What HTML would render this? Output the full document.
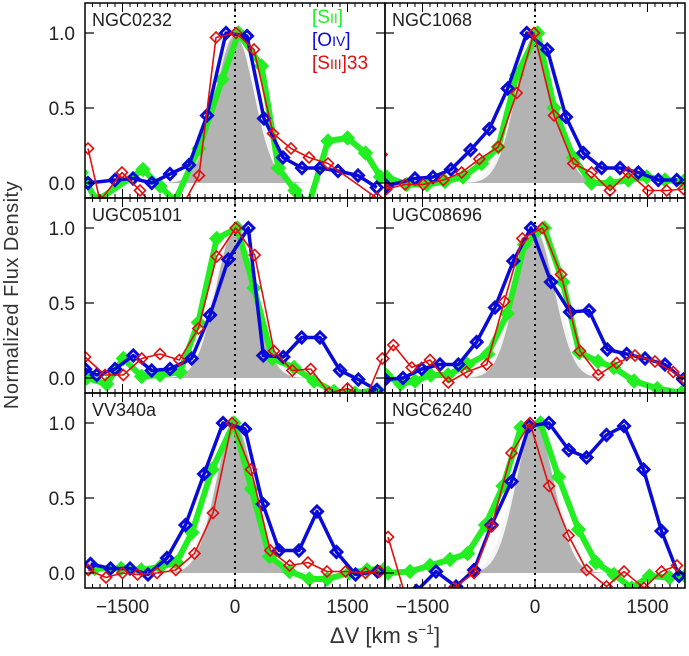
<!DOCTYPE html>
<html><head><meta charset="utf-8">
<style>
html,body{margin:0;padding:0;background:#fff;}
svg{display:block;font-family:"Liberation Sans",sans-serif;}
</style></head>
<body>
<svg id="chart" width="689" height="656" viewBox="0 0 689 656" xmlns="http://www.w3.org/2000/svg"></svg>
<script>
// ---- data: [velocity km/s, normalized flux] ----
const panelNames = ["NGC0232","NGC1068","UGC05101","UGC08696","VV340a","NGC6240"];
const xTicks = [-1500, 0, 1500];
const xTickLabels = ["\u22121500","0","1500"];
const yTicks = [0, 0.5, 1.0];
const yTickLabels = ["0.0","0.5","1.0"];

const ngc0232_siii = [[-2050,0.07],[-1850,-0.12],[-1227,0.09],[-1000,-0.02],[-800,-0.12],[-480,0.23],[-173,0.69],[47,1.0],[353,0.78],[580,0.1],[800,-0.05],[980,-0.15],[1240,0.28],[1500,0.3],[1740,0.2],[1940,0.04]];
const ngc0232_oiv = [[-1960,0],[-1600,0.02],[-1360,0.03],[-1110,0],[-867,0.06],[-613,0.12],[-373,0.45],[-120,1.0],[160,0.98],[387,0.43],[640,0.17],[893,0.1],[1133,0.1],[1373,0.08],[1640,0.05],[1890,-0.03]];
const ngc0232_siii33 = [[-1960,0.23],[-1800,-0.12],[-1507,0.07],[-1267,-0.05],[-1100,-0.15],[-700,-0.15],[-480,0.05],[-253,0.97],[13,1.0],[253,0.89],[507,0.33],[747,0.23],[987,0.17],[1240,0.13],[1890,-0.1]];

const ngc1068_siii = [[-1980,0.04],[-1710,-0.01],[-1440,-0.01],[-1200,0.01],[-960,0.04],[-710,0.13],[-490,0.24],[-244,0.72],[36,1.0],[253,0.5],[511,0.17],[753,0.0],[1000,0.0],[1244,0.02],[1489,0.04],[1733,0.02],[1980,0.01]];
const ngc1068_oiv = [[-1980,-0.02],[-1600,0.03],[-1360,0.04],[-1120,0.09],[-860,0.22],[-610,0.36],[-364,0.63],[-110,1.0],[164,0.89],[413,0.44],[644,0.2],[889,0.1],[1133,0.1],[1378,0.07],[1644,0.02],[1890,0.02]];
const ngc1068_siii33 = [[-2045,0.19],[-1980,-0.04],[-1733,-0.01],[-1490,-0.01],[-1222,0.02],[-978,0.07],[-742,0.16],[-489,0.24],[-244,0.6],[-13,1.0],[253,0.45],[511,0.13],[753,0.07],[1000,-0.05],[1244,0.07],[1511,-0.05],[1756,-0.05],[1980,-0.04]];

const ugc05101_siii = [[-1978,0.0],[-1711,-0.04],[-1489,0.13],[-1244,0.01],[-1000,0.02],[-733,0.04],[-489,0.37],[-244,0.93],[31,1.0],[253,0.6],[498,0.13],[787,0.07],[1053,-0.02],[1320,-0.09],[1600,-0.1],[1900,-0.08]];
const ugc05101_oiv = [[-2000,0.06],[-1844,0.02],[-1600,0.06],[-1356,0.15],[-1111,0.05],[-867,0.06],[-578,0.13],[-333,0.42],[-89,0.79],[178,1.0],[378,0.15],[644,0.14],[889,0.27],[1133,0.27],[1400,0.05],[1644,-0.01],[1889,-0.08]];
const ugc05101_siii33 = [[-2000,0.14],[-1733,0.02],[-1489,0.02],[-1244,0.13],[-1000,0.16],[-742,0.12],[-489,0.33],[-244,0.81],[9,1.0],[262,0.82],[520,0.18],[764,0.05],[1009,0.06],[1253,-0.1],[1500,-0.07],[1750,-0.13],[1964,0.13]];

const ugc08696_siii = [[-1990,0.02],[-1790,-0.04],[-1600,-0.02],[-1390,0.02],[-1160,0.02],[-900,0.09],[-630,0.16],[-370,0.43],[-140,0.89],[124,1.0],[370,0.64],[590,0.17],[840,0.11],[1050,0.07],[1320,-0.02],[1630,-0.07],[1950,-0.1]];
const ugc08696_oiv = [[-2000,-0.01],[-1760,0.0],[-1511,0.06],[-1267,0.09],[-1022,0.09],[-778,0.24],[-533,0.47],[-289,0.78],[-53,1.0],[213,0.64],[467,0.44],[720,0.45],[964,0.19],[1222,0.16],[1467,0.13],[1733,0.09],[1978,-0.01]];
const ugc08696_siii33 = [[-2022,0.13],[-1889,0.22],[-1644,0.07],[-1400,0.12],[-1156,-0.03],[-911,0.04],[-644,0.09],[-409,0.51],[-169,0.93],[98,1.0],[347,0.69],[600,0.18],[844,0.02],[1089,0.1],[1333,0.15],[1600,0.11],[1844,0.04],[2000,-0.01]];

const vv340a_siii = [[-1870,0.03],[-1520,0.03],[-1250,0.02],[-1000,0.04],[-780,0.07],[-573,0.27],[-307,0.69],[-13,1.0],[220,0.56],[460,0.11],[727,0.01],[990,-0.04],[1227,-0.04],[1520,0.0],[1760,0.02],[2000,0.03]];
const vv340a_oiv = [[-1926,0.06],[-1660,0.03],[-1400,0.03],[-1160,-0.01],[-907,0.1],[-660,0.32],[-413,0.66],[-160,1.0],[133,0.96],[371,0.46],[588,0.15],[853,0.15],[1093,0.41],[1353,0.14],[1607,-0.01],[1900,0.01]];
const vv340a_siii33 = [[-1955,0.02],[-1720,-0.03],[-1500,0.0],[-1300,-0.01],[-1040,0.0],[-790,0.02],[-540,0.13],[-293,0.4],[-40,1.0],[213,0.69],[470,0.15],[727,0.05],[973,0.07],[1227,0.01],[1473,0.01],[1740,0.0],[1930,0.01]];

const ngc6240_siii = [[-1960,0.0],[-1667,0.01],[-1400,0.05],[-1133,0.09],[-900,0.13],[-660,0.32],[-427,0.58],[-187,0.97],[73,1.0],[313,0.64],[580,0.29],[813,0.07],[1053,-0.01],[1290,-0.1],[1527,-0.02],[1793,-0.03],[2000,-0.02]];
const ngc6240_oiv = [[-1840,-0.14],[-1580,-0.12],[-1320,0.01],[-1053,-0.09],[-813,0.02],[-580,0.32],[-313,0.61],[-80,0.98],[185,1.0],[450,0.82],[687,0.77],[953,0.92],[1187,0.98],[1447,0.69],[1687,0.28],[1920,-0.02]];
const ngc6240_siii33 = [[-1960,0.24],[-1700,-0.2],[-1080,-0.1],[-813,0.0],[-580,0.31],[-313,0.8],[-67,1.0],[187,0.58],[447,0.25],[687,0.02],[953,-0.09],[1187,0.01],[1453,-0.1],[1687,0.01],[1893,0.05]];

const siiiSeries = [ngc0232_siii, ngc1068_siii, ugc05101_siii, ugc08696_siii, vv340a_siii, ngc6240_siii];
const oivSeries = [ngc0232_oiv, ngc1068_oiv, ugc05101_oiv, ugc08696_oiv, vv340a_oiv, ngc6240_oiv];
const siii33Series = [ngc0232_siii33, ngc1068_siii33, ugc05101_siii33, ugc08696_siii33, vv340a_siii33, ngc6240_siii33];
const instrSigma = 255;

// ---- layout ----
const NS = "http://www.w3.org/2000/svg";
const svg = document.getElementById("chart");
const PW = 300, PH = 195;
const colsX = [85, 385];
const rowsY = [3, 198, 393];
const XMIN = -2000, XMAX = 2000, YMIN = -0.1, YMAX = 1.2;

function mk(tag, attrs, parent) {
  const e = document.createElementNS(NS, tag);
  for (const k in attrs) e.setAttribute(k, attrs[k]);
  (parent || svg).appendChild(e);
  return e;
}

const defs = mk("defs", {});

panelNames.forEach((name, i) => {
  const px = colsX[i % 2], py = rowsY[Math.floor(i / 2)];
  const sx = v => px + (v - XMIN) / (XMAX - XMIN) * PW;
  const sy = f => py + (YMAX - f) / (YMAX - YMIN) * PH;

  const g = mk("g", {});
  
  

  const cp = mk("clipPath", { id: "clip" + i }, defs);
  mk("rect", { x: px, y: py, width: PW, height: PH }, cp);
  const inner = mk("g", { "clip-path": "url(#clip" + i + ")" }, g);

  // instrumental profile (white halo + gray)
  let halo = "", gray = "";
  for (let v = -1100; v <= 1100; v += 20) {
    const f = Math.exp(-v * v / (2 * instrSigma * instrSigma));
    const fh = Math.exp(-v * v / (2 * (instrSigma * 1.12) * (instrSigma * 1.12)));
    gray += (gray ? "L" : "M") + sx(v).toFixed(1) + "," + sy(f * 0.985).toFixed(1);
    halo += (halo ? "L" : "M") + sx(v).toFixed(1) + "," + sy(fh).toFixed(1);
  }
  const hp = mk("path", { d: halo + "Z", fill: "#f4f4f4", stroke: "none" }, inner);
  
  
  const gp = mk("path", { d: gray + "Z", fill: "#b3b3b3", stroke: "none" }, inner);
  
  

  // zero velocity dotted line
  const zl = mk("line", { x1: sx(0), x2: sx(0), y1: py, y2: py + PH, stroke: "#000", "stroke-width": 2, "stroke-dasharray": "2,4" }, inner);
  
  

  function drawSeries(data, color, lw, filled, ms, sname) {
    const sg = mk("g", {}, inner);
    
    
    const d = data.map((p, k) => (k ? "L" : "M") + sx(p[0]).toFixed(1) + "," + sy(p[1]).toFixed(1)).join("");
    mk("path", { d: d, fill: "none", stroke: color, "stroke-width": lw, "stroke-linejoin": "round" }, sg);
    data.forEach(p => {
      const x = sx(p[0]), y = sy(p[1]);
      const m = mk("path", {
        d: `M${x - ms},${y}L${x},${y - ms}L${x + ms},${y}L${x},${y + ms}Z`,
        fill: filled ? color : "none", stroke: color, "stroke-width": filled ? 1 : (lw > 2 ? 3 : 1.6)
      }, sg);
      
      
    });
  }
  drawSeries(siiiSeries[i], "#22ee22", 6, true, 7, "siii");
  drawSeries(oivSeries[i], "#0a0ad8", 3.5, false, 5.5, "oiv");
  drawSeries(siii33Series[i], "#e01010", 1.6, false, 5.5, "siii33");

  // ticks
  for (let v = -2000; v <= 2000; v += 100) {
    if (v === XMIN || v === XMAX) continue;
    const major = xTicks.indexOf(v) >= 0;
    const len = major ? 9 : 4;
    mk("line", { x1: sx(v), x2: sx(v), y1: py + PH, y2: py + PH - len, stroke: "#000", "stroke-width": 1 }, g);
    mk("line", { x1: sx(v), x2: sx(v), y1: py, y2: py + len, stroke: "#000", "stroke-width": 1 }, g);
  }
  yTicks.forEach(t => {
    mk("line", { x1: px, x2: px + 9, y1: sy(t), y2: sy(t), stroke: "#000", "stroke-width": 1.2 }, g);
    mk("line", { x1: px + PW - 9, x2: px + PW, y1: sy(t), y2: sy(t), stroke: "#000", "stroke-width": 1.2 }, g);
  });

  // frame
  const fr = mk("rect", { x: px, y: py, width: PW, height: PH, fill: "none", stroke: "#000", "stroke-width": 1.5 }, g);
  
  

  const t = mk("text", { x: px + 7, y: py + 23, "font-size": 18, fill: "#222" }, g);
  t.textContent = name;
  
  

  // y tick labels (left column)
  if (i % 2 === 0) {
    yTicks.forEach((tv, k) => {
      const tl = mk("text", { x: px - 10, y: sy(tv) + 7, "font-size": 19, "text-anchor": "end", fill: "#222" }, svg);
      tl.textContent = yTickLabels[k];
      
      
    });
  }
  // x tick labels (bottom row)
  if (i >= 4) {
    xTicks.forEach((tv, k) => {
      const tl = mk("text", { x: sx(tv), y: py + PH + 25, "font-size": 19, "text-anchor": "middle", fill: "#222" }, svg);
      tl.textContent = xTickLabels[k];
      
      
    });
  }
});
</script>

<svg style="position:absolute;left:0;top:0" width="689" height="656">
  <g font-family="Liberation Sans, sans-serif" font-size="19">
    <text x="312" y="23" fill="#22ee22">[S<tspan font-size="14">II</tspan>]</text>
    <text x="312" y="46" fill="#0a0ad8">[O<tspan font-size="14">IV</tspan>]</text>
    <text x="312" y="69" fill="#e01010">[S<tspan font-size="14">III</tspan>]33</text>
  </g>
  <text transform="translate(18,295) rotate(-90)" text-anchor="middle" font-family="Liberation Sans, sans-serif" font-size="20" fill="#333" letter-spacing="0.5">Normalized Flux Density</text>
  <text x="385" y="643" text-anchor="middle" font-family="Liberation Sans, sans-serif" font-size="22" fill="#333">ΔV [km s<tspan font-size="14" dy="-9">−1</tspan><tspan dy="9">]</tspan></text>
</svg>
</body></html>
